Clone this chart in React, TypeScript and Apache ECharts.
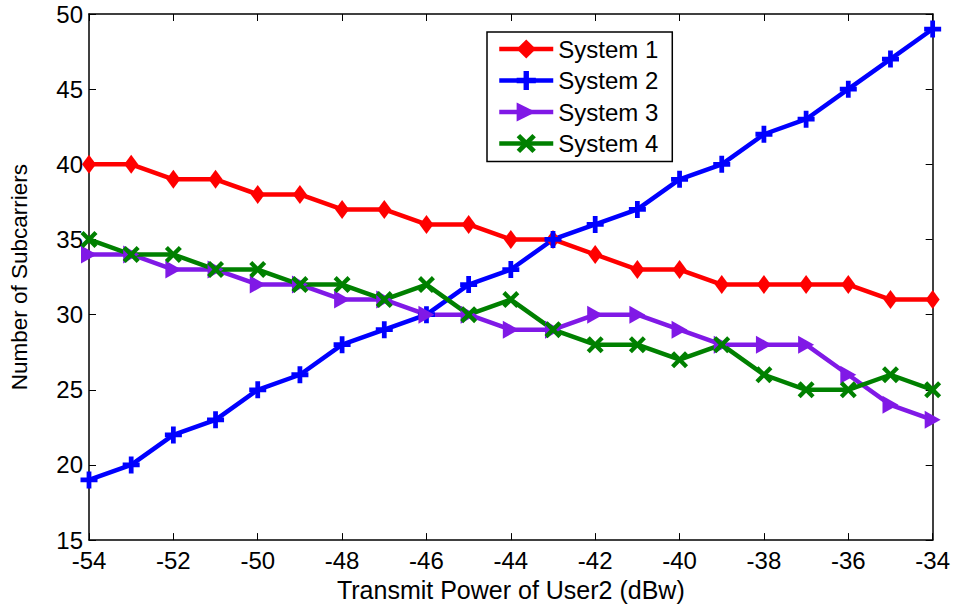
import React, { useEffect, useRef } from "react";
import * as echarts from "echarts";

const xValues = [-54, -53, -52, -51, -50, -49, -48, -47, -46, -45, -44, -43, -42, -41, -40, -39, -38, -37, -36, -35, -34];
const system1 = [40, 40, 39, 39, 38, 38, 37, 37, 36, 36, 35, 35, 34, 33, 33, 32, 32, 32, 32, 31, 31];
const system2 = [19, 20, 22, 23, 25, 26, 28, 29, 30, 32, 33, 35, 36, 37, 39, 40, 42, 43, 45, 47, 49];
const system3 = [34, 34, 33, 33, 32, 32, 31, 31, 30, 30, 29, 29, 30, 30, 29, 28, 28, 28, 26, 24, 23];
const system4 = [35, 34, 34, 33, 33, 32, 32, 31, 32, 30, 31, 29, 28, 28, 27, 28, 26, 25, 25, 26, 25];
const seriesNames = ["System 1", "System 2", "System 3", "System 4"];

const FONT = "'Liberation Sans', Arial, sans-serif";
const PLUS = "path://M3.6,0H6.4V3.6H10V6.4H6.4V10H3.6V6.4H0V3.6H3.6Z";
const CROSS = "path://M0,1.8L1.8,0L5,3.2L8.2,0L10,1.8L6.8,5L10,8.2L8.2,10L5,6.8L1.8,10L0,8.2L3.2,5Z";
const TRI = "path://M0,0L10,5L0,10Z";

function pairs(ys: number[]) {
  return xValues.map((x, i) => [x, ys[i]]);
}

export default function App() {
  const ref = useRef<HTMLDivElement>(null);
  useEffect(() => {
    if (!ref.current) return;
    const chart = echarts.init(ref.current, undefined, { renderer: "svg" });
    const axisCommon = {
      axisLine: { show: true, onZero: false, lineStyle: { color: "#000", width: 1.5 } },
      axisTick: { show: true, inside: true, length: 7, lineStyle: { color: "#000", width: 1 } },
      splitLine: { show: false },
    };
    const mk = (name: string, data: number[], color: string, symbol: string, size: any) => ({
      name,
      type: "line",
      data: pairs(data),
      symbol,
      symbolSize: size,
      clip: false,
      lineStyle: { color, width: 4.5 },
      itemStyle: { color, borderWidth: 0 },
      emphasis: { disabled: true },
    });
    chart.setOption({
      animation: false,
      backgroundColor: "#fff",
      textStyle: { fontFamily: FONT },
      grid: { left: 78, right: 18, top: 14, bottom: 62, containLabel: false },
      legend: {
        orient: "vertical",
        left: 487,
        top: 32,
        data: seriesNames,
        backgroundColor: "#fff",
        borderColor: "#000",
        borderWidth: 1.5,
        borderRadius: 0,
        padding: [5, 14, 6, 10],
        itemWidth: 54,
        itemHeight: 24,
        itemGap: 7.5,
        lineStyle: { width: 4.5 },
        textStyle: { fontSize: 24, color: "#000", fontFamily: FONT },
      },
      xAxis: [
        {
          type: "value",
          min: -54,
          max: -34,
          interval: 2,
          position: "bottom",
          ...axisCommon,
          axisLabel: { color: "#000", fontSize: 24, fontFamily: FONT, margin: 8 },
          name: "Transmit Power of User2 (dBw)",
          nameLocation: "middle",
          nameGap: 35,
          nameTextStyle: { color: "#000", fontSize: 25, fontFamily: FONT },
        },
        {
          type: "value",
          min: -54,
          max: -34,
          interval: 2,
          position: "top",
          ...axisCommon,
          axisLabel: { show: false },
        },
      ],
      yAxis: [
        {
          type: "value",
          min: 15,
          max: 50,
          interval: 5,
          position: "left",
          ...axisCommon,
          axisLabel: { color: "#000", fontSize: 24, fontFamily: FONT, margin: 6 },
          name: "Number of Subcarriers",
          nameLocation: "middle",
          nameGap: 58,
          nameTextStyle: { color: "#000", fontSize: 22.5, fontFamily: FONT },
        },
        {
          type: "value",
          min: 15,
          max: 50,
          interval: 5,
          position: "right",
          ...axisCommon,
          axisLabel: { show: false },
        },
      ],
      series: [
        mk(seriesNames[0], system1, "#ff0000", "diamond", [14, 19]),
        mk(seriesNames[1], system2, "#0000ff", PLUS, 17),
        mk(seriesNames[2], system3, "#8019e6", TRI, [16, 18]),
        mk(seriesNames[3], system4, "#008000", CROSS, 17),
      ],
    });
    return () => chart.dispose();
  }, []);
  return (
    <div
      ref={ref}
      style={{ position: "fixed", left: 0, top: 0, width: 953, height: 607, background: "#fff" }}
    />
  );
}
